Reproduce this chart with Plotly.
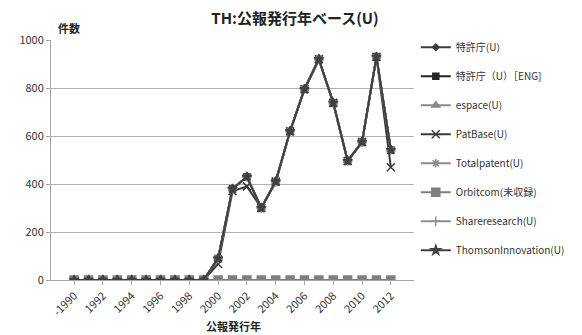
import plotly.graph_objects as go

# Publication years (first bucket covers 1990 and earlier)
years = ["-1990"] + [str(y) for y in range(1991, 2013)]
tick_years = years[::2]

# Counts per database
jpo_u = [0, 0, 0, 0, 0, 0, 0, 0, 0, 0, 90, 380, 430, 300, 410, 620, 795, 920, 738, 496, 575, 930, 542]
jpo_u_eng = [0, 0, 0, 0, 0, 0, 0, 0, 0, 0, 90, 380, 430, 300, 410, 620, 795, 920, 738, 496, 575, 930, 542]
espace_u = [0, 0, 0, 0, 0, 0, 0, 0, 0, 0, 90, 380, 430, 300, 410, 620, 795, 920, 738, 496, 575, 930, 542]
patbase_u = [0, 0, 0, 0, 0, 0, 0, 0, 0, 0, 67, 370, 390, 300, 410, 620, 795, 920, 738, 496, 575, 930, 470]
totalpatent_u = [0, 0, 0, 0, 0, 0, 0, 0, 0, 0, 90, 380, 430, 300, 410, 620, 795, 920, 738, 496, 575, 930, 542]
orbitcom = [0] * 23
shareresearch_u = [0, 0, 0, 0, 0, 0, 0, 0, 0, 0, 90, 380, 430, 300, 410, 620, 795, 920, 738, 496, 575, 930, 542]
thomson_u = [0, 0, 0, 0, 0, 0, 0, 0, 0, 0, 90, 380, 430, 300, 410, 620, 795, 920, 738, 496, 575, 930, 542]

series = [
    ("特許庁(U)", jpo_u, "#3c3c3c", "diamond", 5),
    ("特許庁（U）［ENG]", jpo_u_eng, "#262626", "square", 6),
    ("espace(U)", espace_u, "#8a8a8a", "triangle-up", 7),
    ("PatBase(U)", patbase_u, "#3a3a3a", "x-thin-open", 8),
    ("Totalpatent(U)", totalpatent_u, "#8c8c8c", "asterisk-open", 7),
    ("Orbitcom(未収録)", orbitcom, "#7f7f7f", "square", 8),
    ("Shareresearch(U)", shareresearch_u, "#8f8f8f", "cross-thin-open", 7),
    ("ThomsonInnovation(U)", thomson_u, "#404040", "star", 7),
]

FONT = "Noto Sans CJK JP"

fig = go.Figure()
for i, (name, vals, col, sym, size) in enumerate(series):
    fig.add_trace(go.Scatter(
        x=years, y=vals, name=name, mode="lines+markers",
        line=dict(color=col, width=2),
        marker=dict(symbol=sym, size=size, color=col,
                    line=dict(color=col, width=1.5)),
        legendgroup=f"g{i}",
    ))

fig.update_layout(
    width=582, height=335,
    margin=dict(l=51, r=156, t=40, b=55),
    paper_bgcolor="white", plot_bgcolor="white",
    font=dict(family=FONT, size=10, color="#333333"),
    showlegend=True,
    legend=dict(x=1.005, xanchor="left", y=1.03, yanchor="top",
                font=dict(family=FONT, size=10, color="#333333"),
                tracegroupgap=10, bgcolor="rgba(0,0,0,0)",
                maxheight=330),
    title=dict(text="<b>TH:公報発行年ベース(U)</b>", x=295 / 582, xanchor="center",
               y=1 - 19 / 335, yanchor="middle",
               font=dict(family=FONT, size=15, color="#222222")),
)

fig.update_xaxes(
    type="category", categoryorder="array", categoryarray=years,
    tickmode="array", tickvals=tick_years, ticktext=tick_years,
    tickangle=-45, tickfont=dict(size=11, color="#333333"),
    showgrid=False, showline=True, linecolor="#a6a6a6", linewidth=1,
    ticks="outside", ticklen=4, tickcolor="#a6a6a6",
)
fig.update_yaxes(
    range=[0, 1000], tickvals=[0, 200, 400, 600, 800, 1000],
    tickfont=dict(size=11, color="#333333"),
    showgrid=True, gridcolor="#b0b0b0", gridwidth=1,
    showline=True, linecolor="#a6a6a6", linewidth=1,
    ticks="outside", ticklen=4, tickcolor="#a6a6a6",
    zeroline=False,
)

fig.add_annotation(text="<b>件数</b>", xref="paper", yref="paper",
                   x=(70 - 51) / 375, y=1 + (40 - 28) / 240,
                   showarrow=False, xanchor="center", yanchor="middle",
                   font=dict(family=FONT, size=11, color="#222222"))
fig.add_annotation(text="<b>公報発行年</b>", xref="paper", yref="paper",
                   x=(240 - 51) / 375, y=-(326 - 280) / 240,
                   showarrow=False, xanchor="center", yanchor="middle",
                   font=dict(family=FONT, size=11, color="#222222"))

fig.write_html("out.html")
